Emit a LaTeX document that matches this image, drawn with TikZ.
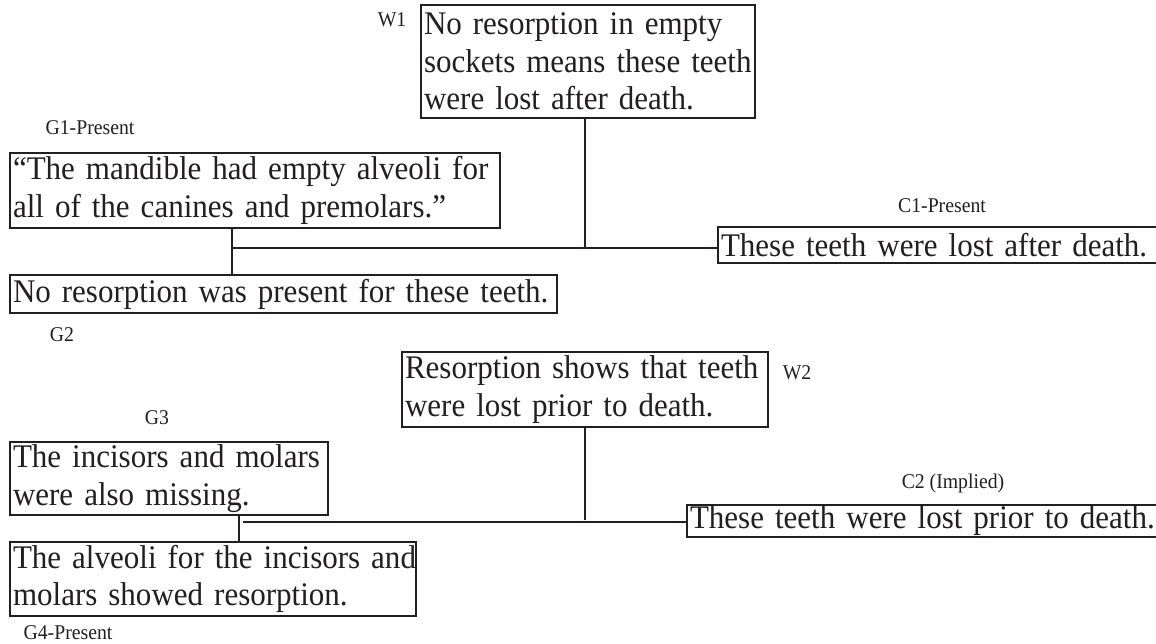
\documentclass[tikz,border=0pt]{standalone}
\usepackage{fontspec}
\setmainfont{Liberation Serif}
% slightly condensed serif for the box and label texts
\newfontfamily\narrowserif{Liberation Serif}[FakeStretch=0.94]
\definecolor{ink}{HTML}{231F20}
\begin{document}
\begin{tikzpicture}[x=1pt,y=-1pt,
  claim/.style={draw=ink, line width=2.6pt, anchor=north west, outer sep=0pt,
    inner xsep=3pt, inner ysep=0pt, align=left, text=ink,
    font=\narrowserif\fontsize{33}{37.5}\selectfont},
  tag/.style={font=\narrowserif\fontsize{21}{24}\selectfont, text=ink, inner sep=0pt},
  link/.style={draw=ink, line width=2.2pt}]
\clip (0,0) rectangle (1156,644);
\fill[white] (0,0) rectangle (1156,644);

% argument boxes, one \mbox per printed line so nothing rewraps
\node[claim, text width=328pt, minimum height=113pt] (w1) at (421,5)
  {\mbox{No resorption in empty}\\\mbox{sockets means these teeth}\\\mbox{were lost after death.}};
\node[claim, text width=484pt, minimum height=75pt] (g1) at (10,153)
  {\mbox{“The mandible had empty alveoli for}\\\mbox{all of the canines and premolars.”}};
\node[claim, text width=454pt, minimum height=36pt] (c1) at (718,227)
  {\mbox{These teeth were lost after death.}};
\node[claim, text width=541pt, minimum height=38pt] (g2) at (10,275)
  {\mbox{No resorption was present for these teeth.}};
\node[claim, text width=360pt, minimum height=75pt] (w2) at (402,352)
  {\mbox{Resorption shows that teeth}\\\mbox{were lost prior to death.}};
\node[claim, text width=312pt, minimum height=73pt] (g3) at (10,442)
  {\mbox{The incisors and molars}\\\mbox{were also missing.}};
\node[claim, text width=400pt, minimum height=74pt] (g4) at (10,542)
  {\mbox{The alveoli for the incisors and}\\\mbox{molars showed resorption.}};
\node[claim, text width=474pt, minimum height=32pt] (c2) at (687,505)
  {\mbox{These teeth were lost prior to death.}};

% labels
\node[tag] (lw1) at (392,20) {W1};
\node[tag] (lg1) at (90,128) {G1-Present};
\node[tag] (lc1) at (942,206) {C1-Present};
\node[tag] (lg2) at (62,335) {G2};
\node[tag] (lw2) at (797,373) {W2};
\node[tag] (lg3) at (157,418) {G3};
\node[tag] (lc2) at (953,483) {C2 (Implied)};
\node[tag] (lg4) at (68,633) {G4-Present};

% first argument
\coordinate (j1) at (585,248);
\coordinate (j2) at (232,248);
\draw[link] (w1.south -| j1) -- (j1);
\draw[link] (g1.south -| j2) -- (g2.north -| j2);
\draw[link] (j2) -- (c1.west |- j1);

% second argument
\coordinate (j3) at (585,522);
\coordinate (j4) at (239,522);
\coordinate (j5) at (243,522);
\draw[link] (w2.south -| j3) -- (585,520);
\draw[link] (g3.south -| j4) -- (g4.north -| j4);
\draw[link] (j5) -- (c2.west |- j3);
\end{tikzpicture}
\end{document}
